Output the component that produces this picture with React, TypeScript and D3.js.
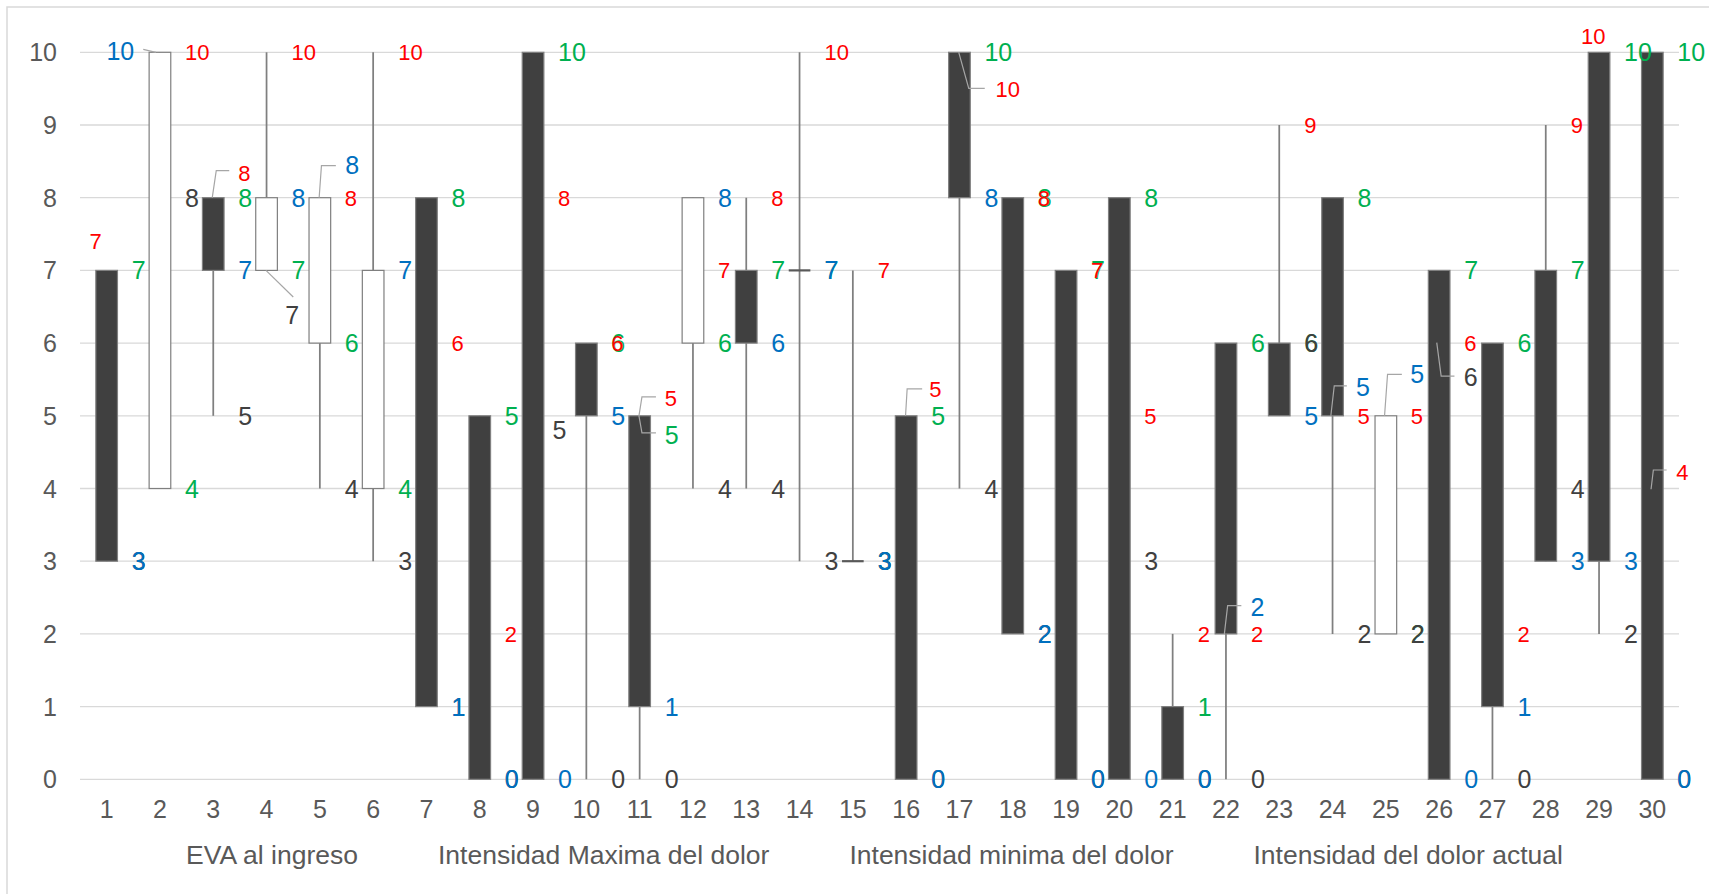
import React, { useEffect, useRef } from "react";
import * as d3 from "d3";

// ---- data ----
const categories = ["1","2","3","4","5","6","7","8","9","10","11","12","13","14","15","16","17","18","19","20","21","22","23","24","25","26","27","28","29","30"];
// Open: EVA al ingreso (green labels)
const evaIngreso = [7,4,8,7,6,4,8,5,10,6,5,6,7,7,3,5,10,8,7,8,1,6,6,8,2,7,6,7,10,10];
// High: Intensidad Maxima del dolor (red labels)
const intensidadMaxima = [7,10,8,10,8,10,6,2,8,6,5,7,8,10,7,5,10,8,7,5,2,2,9,5,5,6,2,9,10,4];
// Low: Intensidad minima del dolor (dark labels)
const intensidadMinima = [3,8,5,7,4,3,1,0,5,0,0,4,4,3,3,0,4,2,0,3,0,0,6,2,2,6,0,4,2,0];
// Close: Intensidad del dolor actual (blue labels)
const intensidadActual = [3,10,7,8,8,7,1,0,0,5,1,8,6,7,3,0,8,2,0,0,0,2,5,5,5,0,1,3,3,0];
const seriesNames = ["EVA al ingreso", "Intensidad Maxima del dolor", "Intensidad minima del dolor", "Intensidad del dolor actual"];
const yTicks = [0,1,2,3,4,5,6,7,8,9,10];

// ---- styling / label placement (not data) ----
const labelColors = ["#00B050", "#FF0000", "#404040", "#0070C0"];
const labelSizes = [25, 22, 25, 25];
type Override = { dx: number; dy: number; anchor?: string; leader?: [number, number][] };
// key: category index (0-based) - series index
const overrides: Record<string, Override> = {
  "0-1": { dx: -11, dy: -29, anchor: "middle" },
  "1-3": { dx: -25.7, dy: -1, anchor: "end", leader: [[-16.7, -3], [-4, 0]] },
  "2-1": { dx: 25, dy: -24.4, leader: [[-1, 0], [3, -27], [16, -27]] },
  "3-2": { dx: 18.7, dy: 44.6, leader: [[-0.6, 0], [26.7, 26.6]] },
  "4-3": { dx: 25.3, dy: -32.7, leader: [[-0.7, 0], [1.6, -32], [16, -32]] },
  "8-2": { dx: 19.5, dy: 14 },
  "10-1": { dx: 25, dy: -17.5, leader: [[-0.7, 0], [2.3, -19], [16.3, -19]] },
  "10-0": { dx: 25, dy: 19, leader: [[-0.7, 0], [2.3, 17], [16.3, 17]] },
  "15-1": { dx: 23, dy: -26.5, leader: [[-0.6, 0], [1, -27], [16, -27]] },
  "16-1": { dx: 36, dy: 37, leader: [[-0.7, 0], [9.3, 36], [25.3, 36]] },
  "21-3": { dx: 24.5, dy: -27, leader: [[-1.6, 0], [1.7, -28.2], [15.4, -28.2]] },
  "23-3": { dx: 23.5, dy: -29, leader: [[-1.7, 0], [1.7, -30], [14.3, -30]] },
  "24-3": { dx: 24.5, dy: -42, leader: [[-1.3, 0], [1.7, -41.5], [16, -41.5]] },
  "25-2": { dx: 24.5, dy: 34, leader: [[-2.4, -0.4], [2, 33], [15.3, 33]] },
  "28-1": { dx: -5.7, dy: -16, anchor: "middle" },
  "29-1": { dx: 24, dy: -16, leader: [[-1.3, 0.8], [1, -18.5], [14.3, -18.5]] },
};

const FONT = "'Liberation Sans', Arial, sans-serif";

export default function App() {
  const ref = useRef<SVGSVGElement>(null);
  useEffect(() => {
    const svg = d3.select(ref.current);
    svg.selectAll("*").remove();
    const W = 1709, H = 894;
    const left = 80, right = 1679, top = 52.3, bottom = 779.3;

    const x = d3.scaleBand<string>().domain(categories).range([left, right]);
    const y = d3.scaleLinear().domain([0, 10]).range([bottom, top]);
    const cx = (c: string) => (x(c) as number) + x.bandwidth() / 2;
    const bodyW = x.bandwidth() * 0.406;

    svg.append("rect").attr("x", 0).attr("y", 0).attr("width", W).attr("height", H).attr("fill", "#fff");
    svg.append("rect").attr("x", 7).attr("y", 7).attr("width", W + 20).attr("height", 900)
      .attr("fill", "none").attr("stroke", "#d9d9d9").attr("stroke-width", 1.5);

    // gridlines
    svg.append("g").selectAll("line").data(yTicks).join("line")
      .attr("x1", left).attr("x2", right)
      .attr("y1", (d) => y(d)).attr("y2", (d) => y(d))
      .attr("stroke", "#d9d9d9").attr("stroke-width", 1.3);

    // y tick labels
    svg.append("g").selectAll("text").data(yTicks).join("text")
      .attr("x", 57).attr("y", (d) => y(d) + 9)
      .attr("text-anchor", "end").attr("font-family", FONT).attr("font-size", 25)
      .attr("fill", "#595959").text((d) => String(d));

    // category labels
    svg.append("g").selectAll("text").data(categories).join("text")
      .attr("x", (d) => cx(d)).attr("y", 818)
      .attr("text-anchor", "middle").attr("font-family", FONT).attr("font-size", 25)
      .attr("fill", "#595959").text((d) => d);

    const rows = categories.map((c, i) => ({
      c, i,
      o: evaIngreso[i], h: intensidadMaxima[i], l: intensidadMinima[i], cl: intensidadActual[i],
    }));

    // high-low lines
    svg.append("g").selectAll("line").data(rows).join("line")
      .attr("x1", (d) => cx(d.c)).attr("x2", (d) => cx(d.c))
      .attr("y1", (d) => y(Math.max(d.o, d.h, d.l, d.cl)))
      .attr("y2", (d) => y(Math.min(d.o, d.h, d.l, d.cl)))
      .attr("stroke", "#7f7f7f").attr("stroke-width", 1.75);

    // up/down bars
    const moving = rows.filter((d) => d.o !== d.cl);
    const flat = rows.filter((d) => d.o === d.cl);
    svg.append("g").selectAll("rect").data(moving).join("rect")
      .attr("x", (d) => cx(d.c) - bodyW / 2)
      .attr("width", bodyW)
      .attr("y", (d) => y(Math.max(d.o, d.cl)))
      .attr("height", (d) => Math.abs(y(d.o) - y(d.cl)))
      .attr("fill", (d) => (d.cl > d.o ? "#ffffff" : "#404040"))
      .attr("stroke", (d) => (d.cl > d.o ? "#7f7f7f" : "#808080"))
      .attr("stroke-width", 1.2);
    svg.append("g").selectAll("line").data(flat).join("line")
      .attr("x1", (d) => cx(d.c) - bodyW / 2).attr("x2", (d) => cx(d.c) + bodyW / 2)
      .attr("y1", (d) => y(d.o)).attr("y2", (d) => y(d.o))
      .attr("stroke", "#595959").attr("stroke-width", 2.2);

    // data labels
    const series = [evaIngreso, intensidadMaxima, intensidadMinima, intensidadActual];
    const gLead = svg.append("g");
    const gLab = svg.append("g");
    series.forEach((vals, s) => {
      vals.forEach((v, i) => {
        const c = categories[i];
        const px = cx(c), py = y(v);
        const ov = overrides[`${i}-${s}`];
        const dx = ov ? ov.dx : 25;
        const dy = ov ? ov.dy : 0;
        const anchor = ov && ov.anchor ? ov.anchor : "start";
        if (ov && ov.leader) {
          gLead.append("path")
            .attr("d", d3.line()(ov.leader.map(([a, b]) => [px + a, py + b]) as [number, number][]) as string)
            .attr("fill", "none").attr("stroke", "#a6a6a6").attr("stroke-width", 1.2);
        }
        gLab.append("text")
          .attr("x", px + dx).attr("y", py + dy + labelSizes[s] * 0.36)
          .attr("text-anchor", anchor)
          .attr("font-family", FONT).attr("font-size", labelSizes[s])
          .attr("fill", labelColors[s]).text(String(v));
      });
    });

    // legend (series names, no visible markers)
    const gLeg = svg.append("g");
    const texts = seriesNames.map((n) =>
      gLeg.append("text").attr("y", 864).attr("font-family", FONT).attr("font-size", 26.5)
        .attr("fill", "#595959").text(n)
    );
    const widths = texts.map((t) => (t.node() as SVGTextElement).getComputedTextLength());
    const gap = 80;
    const total = d3.sum(widths) + gap * (widths.length - 1);
    let sx = 874.5 - total / 2;
    texts.forEach((t, k) => {
      t.attr("x", sx);
      sx += widths[k] + gap;
    });
  }, []);

  return (
    <div style={{ position: "absolute", left: 0, top: 0 }}>
      <svg ref={ref} width={1709} height={894} style={{ display: "block" }} />
    </div>
  );
}
